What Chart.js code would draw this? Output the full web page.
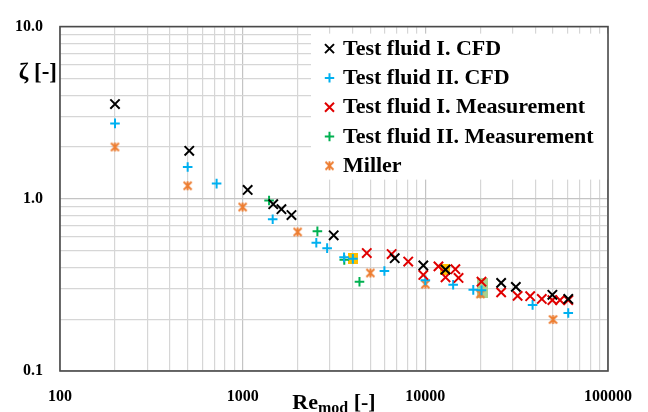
<!DOCTYPE html>
<html>
<head>
<meta charset="utf-8">
<script src="https://cdn.jsdelivr.net/npm/chart.js@4/dist/chart.umd.min.js"></script>
<style>
html,body{margin:0;padding:0;background:#ffffff;}
#wrap{width:648px;height:412px;position:relative;}
</style>
</head>
<body>
<div id="wrap"><canvas id="c" width="648" height="412"></canvas></div>
<script>
// ---------- DATA ----------
const seriesLabels = ['Test fluid I. CFD', 'Test fluid II. CFD', 'Test fluid I. Measurement', 'Test fluid II. Measurement', 'Miller'];

const fluid1CfdRe   = [200, 510, 1065, 1470, 1630, 1850, 3150, 6800, 9750, 12900, 26000, 31300, 49600, 60600];
const fluid1CfdZeta = [3.55, 1.90, 1.125, 0.93, 0.87, 0.805, 0.614, 0.452, 0.41, 0.388, 0.325, 0.308, 0.277, 0.262];

const fluid2CfdRe   = [200, 500, 720, 1460, 2530, 2900, 3590, 4010, 5970, 10000, 14200, 18300, 20300, 38650, 60600];
const fluid2CfdZeta = [2.74, 1.53, 1.225, 0.76, 0.556, 0.517, 0.457, 0.448, 0.381, 0.336, 0.317, 0.296, 0.294, 0.242, 0.217];

const fluid1MeasRe   = [4780, 6540, 8060, 9750, 11800, 12900, 14600, 15200, 20300, 26000, 32000, 37500, 43400, 49600, 54600, 60600];
const fluid1MeasZeta = [0.484, 0.478, 0.432, 0.361, 0.405, 0.35, 0.39, 0.347, 0.33, 0.286, 0.273, 0.272, 0.262, 0.258, 0.258, 0.258];

const fluid2MeasRe   = [1395, 2565, 3600, 4360];
const fluid2MeasZeta = [0.978, 0.647, 0.442, 0.33];

const millerRe   = [200, 500, 1000, 2000, 5000, 10000, 20000, 50000];
const millerZeta = [2.0, 1.19, 0.896, 0.642, 0.371, 0.319, 0.28, 0.199];

// highlighted points (coloured boxes behind markers)
const highlightYellowRe   = [4000, 12800];
const highlightYellowZeta = [0.448, 0.389];
const highlightGreenRe    = [20600];
const highlightGreenZeta  = [0.305];

// axis ticks
const xMajorTicks  = [100, 1000, 10000, 100000];
const xTickLabels  = ['100', '1000', '10000', '100000'];
const yMajorTicks  = [0.1, 1, 10];
const yTickLabels  = ['0.1', '1.0', '10.0'];

// ---------- helpers ----------
const FONT = '"Liberation Serif", "Times New Roman", serif';
Chart.defaults.font.family = FONT;

function pts(xs, ys) { return xs.map((x, i) => ({x: x, y: ys[i]})); }

function decadeTicks(majors) {
  const t = [];
  for (let i = 0; i < majors.length; i++) {
    for (let k = 1; k <= 9; k++) {
      if (i === majors.length - 1 && k > 1) break;
      t.push({value: +(majors[i] * k).toPrecision(8), major: k === 1});
    }
  }
  return t;
}
function majorLabel(value, majors, labels) {
  for (let i = 0; i < majors.length; i++) {
    if (Math.abs(value - majors[i]) / majors[i] < 1e-6) return labels[i];
  }
  return '';
}
function makeStar(color) {
  const c = document.createElement('canvas');
  c.width = 11; c.height = 11;
  const g = c.getContext('2d');
  g.strokeStyle = color; g.lineWidth = 1.9; g.lineCap = 'butt';
  g.beginPath();
  g.moveTo(1.5, 1.5); g.lineTo(9.5, 9.5);
  g.moveTo(9.5, 1.5); g.lineTo(1.5, 9.5);
  g.moveTo(5.5, 1); g.lineTo(5.5, 10);
  g.stroke();
  return c;
}
function makeBox(w, h, color) {
  const c = document.createElement('canvas');
  c.width = w; c.height = h;
  const g = c.getContext('2d');
  g.fillStyle = color; g.fillRect(0, 0, w, h);
  return c;
}

const COL_BLACK = '#000000';
const COL_BLUE = '#00B0F0';
const COL_RED = '#E00000';
const COL_GREEN = '#00B050';
const COL_ORANGE = '#ED7D31';

const millerStar = makeStar(COL_ORANGE);

const datasets = [
  {label: seriesLabels[0], data: pts(fluid1CfdRe, fluid1CfdZeta), pointStyle: 'crossRot', pointRadius: 6.6, borderColor: COL_BLACK, backgroundColor: COL_BLACK, borderWidth: 2, order: 1},
  {label: seriesLabels[2], data: pts(fluid1MeasRe, fluid1MeasZeta), pointStyle: 'crossRot', pointRadius: 6.6, borderColor: COL_RED, backgroundColor: COL_RED, borderWidth: 2, order: 2},
  {label: seriesLabels[1], data: pts(fluid2CfdRe, fluid2CfdZeta), pointStyle: 'cross', pointRadius: 4.8, borderColor: COL_BLUE, backgroundColor: COL_BLUE, borderWidth: 2, order: 3},
  {label: seriesLabels[3], data: pts(fluid2MeasRe, fluid2MeasZeta), pointStyle: 'cross', pointRadius: 4.8, borderColor: COL_GREEN, backgroundColor: COL_GREEN, borderWidth: 2, order: 4},
  {label: seriesLabels[4], data: pts(millerRe, millerZeta), pointStyle: millerStar, pointRadius: 5, borderColor: COL_ORANGE, backgroundColor: COL_ORANGE, borderWidth: 1.9, order: 5},
  {label: 'highlightYellow', data: pts(highlightYellowRe, highlightYellowZeta), pointStyle: makeBox(10, 11, '#FFC000'), pointRadius: 6, borderWidth: 0, order: 10},
  {label: 'highlightGreen', data: pts(highlightGreenRe, highlightGreenZeta), pointStyle: makeBox(11, 20, '#A9D18E'), pointRadius: 6, borderWidth: 0, order: 11}
];

const legendItems = [
  {text: seriesLabels[0], style: 'crossRot', color: COL_BLACK},
  {text: seriesLabels[1], style: 'cross', color: COL_BLUE},
  {text: seriesLabels[2], style: 'crossRot', color: COL_RED},
  {text: seriesLabels[3], style: 'cross', color: COL_GREEN},
  {text: seriesLabels[4], style: 'star', color: COL_ORANGE}
];

function drawMarker(ctx, style, color, x, y) {
  ctx.save();
  ctx.strokeStyle = color; ctx.lineWidth = 2;
  ctx.beginPath();
  if (style === 'crossRot') {
    const r = 4.5;
    ctx.moveTo(x - r, y - r); ctx.lineTo(x + r, y + r);
    ctx.moveTo(x + r, y - r); ctx.lineTo(x - r, y + r);
    ctx.stroke();
  } else if (style === 'cross') {
    const r = 4.7;
    ctx.moveTo(x - r, y); ctx.lineTo(x + r, y);
    ctx.moveTo(x, y - r); ctx.lineTo(x, y + r);
    ctx.stroke();
  } else {
    ctx.drawImage(millerStar, x - 5.5, y - 5.5);
  }
  ctx.restore();
}

const decorPlugin = {
  id: 'decor',
  afterDatasetsDraw(chart) {
    const ctx = chart.ctx;
    const a = chart.chartArea;
    // legend box (white, covers grid)
    const bx = a.right - 297, by = a.top + 7, bw = 297, bh = 146;
    ctx.save();
    ctx.fillStyle = '#ffffff';
    ctx.fillRect(bx, by, bw, bh);
    ctx.font = 'bold 22px ' + FONT;
    ctx.fillStyle = '#000000';
    ctx.textAlign = 'left';
    ctx.textBaseline = 'alphabetic';
    legendItems.forEach((it, i) => {
      const base = a.top + 28 + 29.3 * i;
      drawMarker(ctx, it.style, it.color, bx + 18.5, base - 6);
      ctx.fillText(it.text, bx + 32, base);
    });
    ctx.restore();
  },
  afterDraw(chart) {
    const ctx = chart.ctx;
    const a = chart.chartArea;
    ctx.save();
    // frame
    ctx.strokeStyle = '#4a4a4a';
    ctx.lineWidth = 1.6;
    ctx.strokeRect(a.left, a.top, a.right - a.left, a.bottom - a.top);
    // y axis title
    ctx.fillStyle = '#000000';
    ctx.font = 'bold 23px ' + FONT;
    ctx.textAlign = 'right';
    ctx.textBaseline = 'alphabetic';
    ctx.fillText('ζ [-]', a.left - 3, a.top + 52);
    // x axis title with subscript
    ctx.textAlign = 'left';
    const big = 'bold 22px ' + FONT, small = 'bold 16px ' + FONT;
    ctx.font = big; const w1 = ctx.measureText('Re').width; const w3 = ctx.measureText(' [-]').width;
    ctx.font = small; const w2 = ctx.measureText('mod').width;
    const cx = (a.left + a.right) / 2;
    let x0 = cx - (w1 + w2 + w3) / 2;
    const base = a.bottom + 38;
    ctx.font = big; ctx.fillText('Re', x0, base);
    ctx.font = small; ctx.fillText('mod', x0 + w1, base + 4);
    ctx.font = big; ctx.fillText(' [-]', x0 + w1 + w2, base);
    ctx.restore();
  }
};

const gridColor = (c) => (c.tick && c.tick.major) ? '#c4c4c4' : '#d6d6d6';

new Chart(document.getElementById('c'), {
  type: 'scatter',
  data: {datasets: datasets},
  options: {
    responsive: false,
    animation: false,
    devicePixelRatio: 1,
    layout: {padding: {top: 17, right: 36, left: 0, bottom: 0}},
    plugins: {legend: {display: false}, tooltip: {enabled: false}},
    scales: {
      x: {
        type: 'logarithmic',
        min: 100, max: 100000,
        afterBuildTicks: (s) => { s.ticks = decadeTicks(xMajorTicks); },
        afterFit: (s) => { s.height = 41; },
        grid: {color: gridColor, lineWidth: 1.2, drawTicks: false},
        border: {display: false},
        ticks: {
          autoSkip: false, maxRotation: 0, minRotation: 0, padding: 16,
          color: '#000000', font: {size: 16, weight: 'bold', family: FONT},
          callback: (v) => majorLabel(v, xMajorTicks, xTickLabels)
        }
      },
      y: {
        type: 'logarithmic',
        min: 0.1, max: 10,
        afterBuildTicks: (s) => { s.ticks = decadeTicks(yMajorTicks); },
        afterFit: (s) => { s.width = 60; },
        grid: {color: gridColor, lineWidth: 1.2, drawTicks: false},
        border: {display: false},
        ticks: {
          autoSkip: false, padding: 17,
          color: '#000000', font: {size: 16, weight: 'bold', family: FONT},
          callback: (v) => majorLabel(v, yMajorTicks, yTickLabels)
        }
      }
    }
  },
  plugins: [decorPlugin]
});
</script>
</body>
</html>
